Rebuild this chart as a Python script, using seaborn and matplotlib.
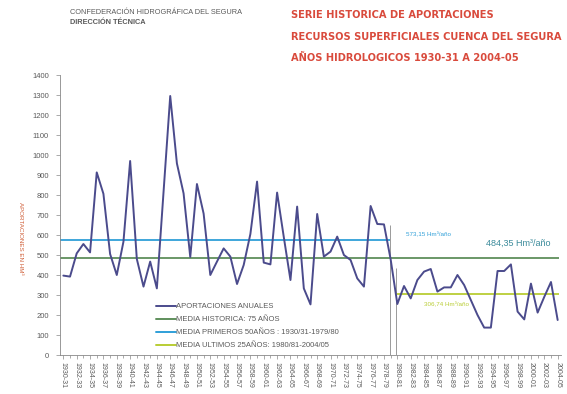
import numpy as np
import pandas as pd
import matplotlib
matplotlib.use("Agg")
import matplotlib.pyplot as plt
import seaborn as sns
from matplotlib.ticker import MultipleLocator
from matplotlib.lines import Line2D
from matplotlib import font_manager

# ---------------- data ----------------
years = [f"{y}-{str(y + 1)[-2:]}" for y in range(1930, 2005)]
aportaciones = [
    397, 392, 508, 555, 513, 913, 806, 505, 400, 567,
    970, 480, 342, 467, 333, 815, 1295, 958, 808, 490,
    855, 707, 400, 467, 533, 492, 355, 450, 605, 867,
    462, 453, 812, 590, 375, 742, 333, 253, 705, 492,
    517, 592, 500, 475, 383, 342, 745, 655, 653, 478,
    255, 345, 283, 375, 417, 430, 317, 338, 338, 400,
    350, 275, 200, 137, 137, 420, 420, 453, 217, 178,
    357, 212, 291, 365, 175,
]
media_historica = 484.35
media_primeros50 = 573.15
media_ultimos25 = 306.74
legend_labels = [
    "APORTACIONES ANUALES",
    "MEDIA HISTORICA: 75 AÑOS",
    "MEDIA PRIMEROS 50AÑOS : 1930/31-1979/80",
    "MEDIA ULTIMOS 25AÑOS: 1980/81-2004/05",
]
annot_labels = ["573,15 Hm³/año", "484,35 Hm³/año", "306,74 Hm³/año"]
title_lines = ["SERIE HISTORICA DE APORTACIONES",
               "RECURSOS SUPERFICIALES CUENCA DEL SEGURA",
               "AÑOS HIDROLOGICOS 1930-31 A 2004-05"]

df = pd.DataFrame({"idx": np.arange(len(years)), "year": years, "value": aportaciones})

# ---------------- style ----------------
sns.set_style("white")
plt.rcParams["font.family"] = ["Liberation Sans", "DejaVu Sans"]

# look for a condensed font for the title
cond_family = None
for f in font_manager.fontManager.ttflist:
    nm = f.name
    if ("Narrow" in nm or "Condensed" in nm) or str(f.stretch) in ("condensed", "semi-condensed", "extra-condensed", "ultra-condensed"):
        cond_family = nm
        break
title_family = [cond_family, "Liberation Sans", "DejaVu Sans"] if cond_family else ["Liberation Sans", "DejaVu Sans"]

c_series = "#4b4b8c"
c_hist = "#5f8f5c"
c_first = "#2f9fd8"
c_last = "#b9cd34"
c_red = "#d94a3c"
c_gray = "#5a5a5a"

fig = plt.figure(figsize=(5.67, 3.94), dpi=100)
ax = fig.add_axes([60 / 567, 1 - 355 / 394, 501 / 567, 280 / 394])

n = len(years)
# mean lines
ax.hlines(media_historica, -0.5, n - 0.8, color=c_hist, lw=1.3)
ax.hlines(media_primeros50, -0.5, 48.9, color=c_first, lw=1.3)
ax.hlines(media_ultimos25, 49.8, n - 0.8, color=c_last, lw=1.3)
# separators
ax.vlines(48.9, 0, 650, color="#9a9a9a", lw=0.7)
ax.vlines(49.8, 0, 435, color="#9a9a9a", lw=0.7)

sns.lineplot(data=df, x="idx", y="value", ax=ax, color=c_series, lw=1.4)

ax.set_xlim(-0.5, n - 0.5)
ax.set_ylim(0, 1400)
ax.yaxis.set_major_locator(MultipleLocator(100))
ax.set_xticks(np.arange(0, n, 2))
ax.set_xticklabels(years[::2], rotation=-90, fontsize=5, color=c_gray)
ax.xaxis.set_minor_locator(MultipleLocator(1))
ax.tick_params(axis="x", which="major", length=3, width=0.5, color="#888888", pad=2, bottom=True)
ax.tick_params(axis="x", which="minor", length=2, width=0.5, color="#888888", bottom=True)
ax.tick_params(axis="y", length=3, width=0.5, color="#888888", labelsize=5.5, labelcolor=c_gray, left=True, pad=5)
for s in ["top", "right"]:
    ax.spines[s].set_visible(False)
for s in ["left", "bottom"]:
    ax.spines[s].set_color("#888888")
    ax.spines[s].set_linewidth(0.6)
ax.set_xlabel("")
ax.set_ylabel("")

# annotations
ax.text(51.3, 600, annot_labels[0], fontsize=4.5, color=c_first, va="center")
ax.text(63.2, 560, annot_labels[1], fontsize=6.5, color="#3a8a9a", va="center")
ax.text(54.0, 250, annot_labels[2], fontsize=4.5, color=c_last, va="center")

# legend
handles = [Line2D([], [], color=c, lw=1.4) for c in [c_series, c_hist, c_first, c_last]]
leg = ax.legend(handles, legend_labels, loc="upper left", bbox_to_anchor=(0.185, 0.197),
                frameon=False, fontsize=5.5, handlelength=2.6, handletextpad=0.0,
                labelspacing=0.75, borderaxespad=0)
for t in leg.get_texts():
    t.set_color(c_gray)

# y label
fig.text(20 / 567, 1 - 238 / 394, "APORTACIONES EN HM³", rotation=-90, fontsize=4.5,
         color="#d0603a", ha="center", va="center")

# headers
fig.text(70 / 567, 1 - 12 / 394, "CONFEDERACIÓN HIDROGRÁFICA DEL SEGURA", fontsize=5.3,
         color=c_gray, va="center", ha="left")
fig.text(70 / 567, 1 - 22 / 394, "DIRECCIÓN TÉCNICA", fontsize=5.3, fontweight="bold",
         color=c_gray, va="center", ha="left")

title_texts = []
for i, line in enumerate(title_lines):
    t = fig.text(291 / 567, 1 - (15 + 21.5 * i) / 394, line, fontsize=11, fontweight="bold",
                 color=c_red, va="center", ha="left", family=title_family)
    title_texts.append(t)

# fit title width to the reference (longest line ~269 px)
fig.canvas.draw()
renderer = fig.canvas.get_renderer()
w = title_texts[1].get_window_extent(renderer).width
scale = 269.0 / w
for t in title_texts:
    t.set_fontsize(11 * scale)

fig.savefig("out.png", dpi=100)
